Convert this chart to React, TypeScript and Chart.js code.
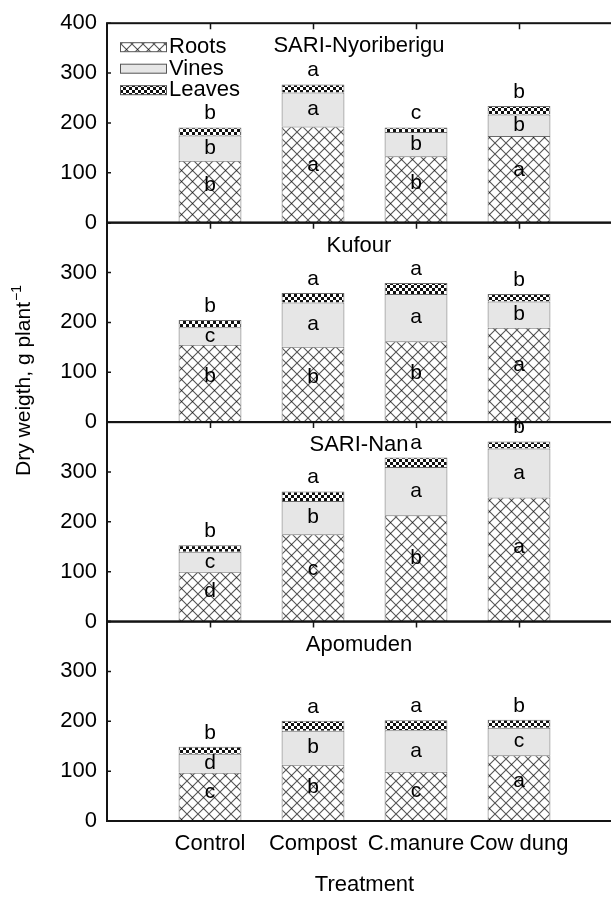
import { useEffect, useRef } from 'react';
import { Chart, registerables } from 'chart.js';

Chart.register(...registerables);

const categories = ['Control', 'Compost', 'C.manure', 'Cow dung'];
const panelNames = ['SARI-Nyoriberigu', 'Kufour', 'SARI-Nan', 'Apomuden'];
const seriesNames = ['Roots', 'Vines', 'Leaves'];
const yTickValues = [0, 100, 200, 300, 400];

// SARI-Nyoriberigu
const nyoRoots = [124, 193, 133, 174];
const nyoVines = [51, 68, 49, 43];
const nyoLeaves = [16, 16, 9, 17];
const nyoRootsSig = ['b', 'a', 'b', 'a'];
const nyoVinesSig = ['b', 'a', 'b', 'b'];
const nyoLeavesSig = ['b', 'a', 'c', 'b'];

// Kufour
const kufRoots = [155, 151, 162, 189];
const kufVines = [35, 89, 95, 53];
const kufLeaves = [15, 19, 22, 15];
const kufRootsSig = ['b', 'b', 'b', 'a'];
const kufVinesSig = ['c', 'a', 'a', 'b'];
const kufLeavesSig = ['b', 'a', 'a', 'b'];

// SARI-Nan
const nanRoots = [100, 175, 213, 249];
const nanVines = [40, 67, 97, 98];
const nanLeaves = [13, 19, 19, 14];
const nanRootsSig = ['d', 'c', 'b', 'a'];
const nanVinesSig = ['c', 'b', 'a', 'a'];
const nanLeavesSig = ['b', 'a', 'a', 'b'];

// Apomuden
const apoRoots = [97, 113, 99, 132];
const apoVines = [38, 68, 83, 55];
const apoLeaves = [14, 20, 20, 16];
const apoRootsSig = ['c', 'b', 'c', 'a'];
const apoVinesSig = ['d', 'b', 'a', 'c'];
const apoLeavesSig = ['b', 'a', 'a', 'b'];

const panels = [
  { name: panelNames[0], values: [nyoRoots, nyoVines, nyoLeaves], sig: [nyoRootsSig, nyoVinesSig, nyoLeavesSig] },
  { name: panelNames[1], values: [kufRoots, kufVines, kufLeaves], sig: [kufRootsSig, kufVinesSig, kufLeavesSig] },
  { name: panelNames[2], values: [nanRoots, nanVines, nanLeaves], sig: [nanRootsSig, nanVinesSig, nanLeavesSig] },
  { name: panelNames[3], values: [apoRoots, apoVines, apoLeaves], sig: [apoRootsSig, apoVinesSig, apoLeavesSig] },
];

const yIds = ['y1', 'y2', 'y3', 'y4'];
const FONT = '"Liberation Sans", Arial, Helvetica, sans-serif';

function makeCross(ctx: CanvasRenderingContext2D) {
  const s = 11;
  const c = document.createElement('canvas');
  c.width = s;
  c.height = s;
  const g = c.getContext('2d')!;
  g.fillStyle = '#ffffff';
  g.fillRect(0, 0, s, s);
  g.strokeStyle = '#555555';
  g.lineWidth = 1.1;
  g.beginPath();
  g.moveTo(-1, -1);
  g.lineTo(s + 1, s + 1);
  g.moveTo(s + 1, -1);
  g.lineTo(-1, s + 1);
  g.stroke();
  g.fillStyle = '#222';
  g.fillRect(5, 5, 1, 1);
  return ctx.createPattern(c, 'repeat')!;
}

function makeChecker(ctx: CanvasRenderingContext2D) {
  const s = 3;
  const c = document.createElement('canvas');
  c.width = s * 2;
  c.height = s * 2;
  const g = c.getContext('2d')!;
  g.fillStyle = '#ffffff';
  g.fillRect(0, 0, s * 2, s * 2);
  g.fillStyle = '#111111';
  g.fillRect(0, 0, s, s);
  g.fillRect(s, s, s, s);
  return ctx.createPattern(c, 'repeat')!;
}

export default function App() {
  const ref = useRef<HTMLCanvasElement>(null);

  useEffect(() => {
    const canvas = ref.current!;
    const ctx = canvas.getContext('2d')!;
    const fills: any[] = [makeCross(ctx), '#e6e6e6', makeChecker(ctx)];

    const datasets: any[] = [];
    panels.forEach((p, pi) => {
      p.values.forEach((vals, si) => {
        datasets.push({
          type: 'bar',
          label: seriesNames[si],
          data: vals.map((v, i) => ({ x: i + 1, y: v })),
          yAxisID: yIds[pi],
          stack: 'all',
          backgroundColor: fills[si],
          borderColor: '#6a6a6a',
          borderWidth: 1,
          barPercentage: 0.61,
          categoryPercentage: 1,
        });
      });
    });

    const scales: any = {
      x: {
        type: 'linear',
        min: 0,
        max: 5,
        offset: false,
        stacked: true,
        afterBuildTicks: (s: any) => {
          s.ticks = categories.map((_, i) => ({ value: i + 1 }));
        },
        afterFit: (s: any) => {
          s.height = 77;
        },
        ticks: {
          autoSkip: false,
          maxRotation: 0,
          padding: 10,
          color: '#000',
          font: { family: FONT, size: 22 },
          callback: (v: any) => categories[Math.round(v) - 1] ?? '',
        },
        grid: { display: false, drawTicks: false, offset: false },
        border: { display: false },
        title: {
          display: true,
          text: 'Treatment',
          color: '#000',
          font: { family: FONT, size: 22 },
          padding: { top: 0, bottom: 0 },
        },
      },
    };
    // later-defined stacked axes are placed higher, so define bottom panel first
    [...yIds].reverse().forEach((id) => {
      const pi = yIds.indexOf(id);
      scales[id] = {
        type: 'linear',
        position: 'left',
        stack: 'panels',
        stackWeight: 1,
        stacked: true,
        min: 0,
        max: 400,
        afterBuildTicks: (s: any) => {
          s.ticks = yTickValues.map((v) => ({ value: v }));
        },
        afterFit: (s: any) => {
          s.width = 107;
        },
        ticks: {
          autoSkip: false,
          padding: 10,
          color: '#000',
          font: { family: FONT, size: 22 },
          callback: (v: any) => (pi > 0 && v === 400 ? '' : String(v)),
        },
        grid: { display: false, drawTicks: false },
        border: { display: false },
      };
    });

    const decor = {
      id: 'decor',
      afterDraw(chart: any) {
        const c = chart.ctx as CanvasRenderingContext2D;
        const area = chart.chartArea;
        const xs = chart.scales.x;
        c.save();
        // panel frames and ticks
        c.strokeStyle = '#141414';
        yIds.forEach((id) => {
          const ys = chart.scales[id];
          c.lineWidth = 2;
          c.strokeRect(area.left, ys.top, area.right - area.left, ys.bottom - ys.top);
          c.lineWidth = 1.5;
          c.beginPath();
          categories.forEach((_, i) => {
            const x = Math.round(xs.getPixelForValue(i + 1)) + 0.5;
            c.moveTo(x, ys.top);
            c.lineTo(x, ys.top + 6);
          });
          yTickValues.forEach((v) => {
            const y = ys.getPixelForValue(v);
            c.moveTo(area.left, y);
            c.lineTo(area.left + 4, y);
          });
          c.stroke();
        });

        // panel titles and significance letters
        c.fillStyle = '#000';
        c.textAlign = 'center';
        c.textBaseline = 'middle';
        panels.forEach((p, pi) => {
          const ys = chart.scales[yIds[pi]];
          c.font = `22px ${FONT}`;
          c.fillText(p.name, (area.left + 611) / 2, ys.top + 23);
          c.font = `21px ${FONT}`;
          const [r, v, l] = p.values;
          categories.forEach((_, i) => {
            const x = xs.getPixelForValue(i + 1);
            c.fillText(p.sig[0][i], x, ys.getPixelForValue(r[i] * 0.6));
            c.fillText(p.sig[1][i], x, ys.getPixelForValue(r[i] + v[i] / 2));
            c.fillText(p.sig[2][i], x, ys.getPixelForValue(r[i] + v[i] + l[i]) - 14);
          });
        });

        // legend
        const top = chart.scales[yIds[0]].top;
        c.textAlign = 'left';
        c.font = `22px ${FONT}`;
        seriesNames.forEach((name, si) => {
          const cy = top + 24 + si * 21.5;
          const bx = area.left + 13;
          c.fillStyle = fills[si];
          c.fillRect(bx, cy - 4.5, 47, 9);
          c.strokeStyle = '#555';
          c.lineWidth = 1;
          c.strokeRect(bx + 0.5, cy - 4.5, 46, 9);
          c.fillStyle = '#000';
          c.fillText(name, bx + 49, cy);
        });

        // y axis title
        c.translate(24, 381);
        c.rotate(-Math.PI / 2);
        const main = 'Dry weigth, g plant';
        const sup = '\u22121';
        c.font = `21px ${FONT}`;
        const w1 = c.measureText(main).width;
        c.font = `14px ${FONT}`;
        const w2 = c.measureText(sup).width;
        const start = -(w1 + w2) / 2;
        c.font = `21px ${FONT}`;
        c.fillText(main, start, 0);
        c.font = `14px ${FONT}`;
        c.fillText(sup, start + w1 + 1, -7);
        c.restore();
      },
    };

    const chart = new Chart(canvas, {
      type: 'bar',
      data: { datasets },
      options: {
        animation: false,
        responsive: false,
        maintainAspectRatio: false,
        layout: { padding: { top: 20, right: 3, left: 0, bottom: 0 } },
        plugins: { legend: { display: false }, tooltip: { enabled: false } },
        scales,
      },
      plugins: [decor],
    } as any);
    return () => chart.destroy();
  }, []);

  return (
    <div style={{ position: 'absolute', left: 0, top: 0, width: 611, height: 898, overflow: 'hidden', background: '#fff' }}>
      <canvas ref={ref} width={625} height={898} style={{ display: 'block', width: 625, height: 898 }} />
    </div>
  );
}
